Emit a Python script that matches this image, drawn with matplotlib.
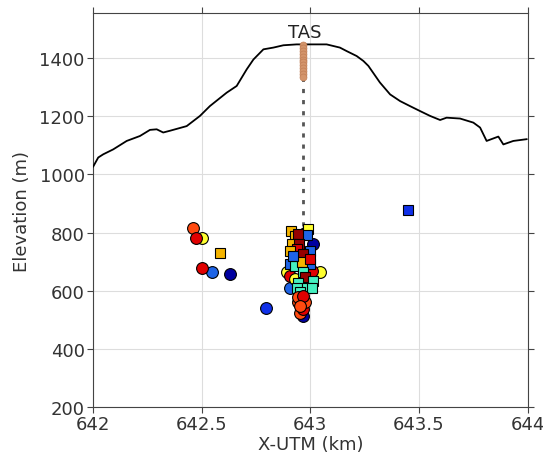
import matplotlib
matplotlib.use('Agg')
import matplotlib.pyplot as plt

# topographic profile along the section (km, m)
topo_x = [642.001, 642.024, 642.047, 642.093, 642.155, 642.216, 642.262, 642.293,
          642.323, 642.354, 642.431, 642.492, 642.538, 642.615, 642.661, 642.707,
          642.738, 642.784, 642.830, 642.876, 642.937, 642.983, 643.044, 643.075,
          643.136, 643.167, 643.213, 643.244, 643.267, 643.320, 643.367, 643.413,
          643.458, 643.504, 643.551, 643.597, 643.627, 643.689, 643.750, 643.781,
          643.811, 643.865, 643.888, 643.934, 643.995]
topo_z = [1027, 1058, 1069, 1086, 1115, 1132, 1153, 1155,
          1144, 1150, 1166, 1201, 1235, 1281, 1304, 1361,
          1395, 1430, 1436, 1444, 1447, 1447, 1447, 1447,
          1436, 1424, 1407, 1390, 1373, 1316, 1275, 1252,
          1235, 1218, 1201, 1187, 1195, 1192, 1178, 1161,
          1115, 1130, 1103, 1115, 1121]

# borehole station
sta_name = 'TAS'
sta_x = 642.966
sta_top = 1447
well_bottom = 540
sensor_z = [1445, 1435, 1425, 1415, 1405, 1395, 1385, 1375, 1365, 1355, 1345, 1335]

# event catalogue: x (km), elevation (m), symbol, colour class
ev_x = [642.460, 642.500, 642.474, 642.584, 642.546, 642.503, 642.630, 642.796, 643.448,
        642.968, 642.952, 642.968, 642.906, 642.891, 643.044, 642.906, 643.006, 642.975,
        643.010, 642.930,
        642.910, 642.991, 642.983, 642.929, 642.945, 642.914, 642.949, 642.937, 642.906,
        642.998, 642.968, 642.906, 642.998, 642.929, 642.960, 642.968, 642.975, 642.945,
        643.014, 642.937, 642.983, 643.006, 642.952, 642.920, 643.000,
        642.945, 642.960, 642.975, 642.945, 642.968, 642.952]
ev_z = [815, 781, 781, 730, 665, 677, 657, 542, 878,
        514, 525, 537, 611, 663, 663, 651, 668, 800,
        760, 640,
        806, 811, 791, 789, 794, 760, 760, 745, 737,
        737, 726, 691, 691, 685, 700, 663, 646, 628,
        634, 611, 611, 611, 595, 720, 710,
        560, 565, 560, 577, 582, 548]
ev_sym = ['o', 'o', 'o', 's', 'o', 'o', 'o', 'o', 's',
          'o', 'o', 'o', 'o', 'o', 'o', 'o', 'o', 'o',
          'o', 'o',
          's', 's', 's', 's', 's', 's', 's', 's', 's',
          's', 's', 's', 's', 's', 's', 's', 's', 's',
          's', 's', 's', 's', 's', 's', 's',
          'o', 'o', 'o', 'o', 'o', 'o']
ev_cls = ['orange', 'yellow', 'red', 'gold', 'blue', 'red', 'dkblue', 'pblue', 'pblue',
          'dkblue', 'orange', 'red', 'blue', 'yellow', 'yellow', 'red', 'red', 'yellow',
          'dkblue', 'yellow',
          'gold', 'yellow', 'blue', 'gold', 'dkred', 'gold', 'dkred', 'red', 'gold',
          'blue', 'dkred', 'blue', 'blue', 'aqua', 'gold', 'aqua', 'dkred', 'aqua',
          'aqua', 'aqua', 'aqua', 'aqua', 'aqua', 'blue', 'red',
          'orange', 'red', 'orange', 'orange', 'red', 'orange']

colours = {'dkblue': '#0000A0', 'pblue': '#1030E8', 'blue': '#1E64E6',
           'aqua': '#45F0C0', 'yellow': '#FFFF30', 'gold': '#F5B400',
           'orange': '#FF4A10', 'red': '#E00000', 'dkred': '#960000'}

fig = plt.figure(figsize=(5.43, 4.60), dpi=100)
ax = fig.add_axes([0.1713, 0.1130, 0.8005, 0.8566])

ax.plot(topo_x, topo_z, color='black', lw=1.3, zorder=3)
ax.plot([sta_x, sta_x], [sta_top, well_bottom], color='#555555', lw=2,
        ls=(0, (1.5, 2.5)), zorder=2)
ax.plot([sta_x] * len(sensor_z), sensor_z, 'o', ms=5, color='#D4956B',
        mec='#C07E55', mew=0.5, zorder=4)
ax.text(sta_x + 0.01, 1458, sta_name, ha='center', va='bottom', fontsize=13,
        color='#222222')

for x, z, m, c in zip(ev_x, ev_z, ev_sym, ev_cls):
    ms = 8.5 if m == 'o' else 7.5
    ax.plot(x, z, m, ms=ms, color=colours[c], mec='black', mew=0.8, zorder=5)

ax.set_xlim(642, 644)
ax.set_ylim(200, 1555)
ax.set_xticks([642, 642.5, 643, 643.5, 644])
ax.set_xticklabels(['642', '642.5', '643', '643.5', '644'])
ax.set_yticks([200, 400, 600, 800, 1000, 1200, 1400])
ax.grid(True, color='#DDDDDD', lw=0.8)
ax.set_axisbelow(True)
ax.tick_params(direction='out', length=4, top=True, right=True,
               labelsize=13, colors='#444444', labelcolor='#333333', pad=2)
for s in ax.spines.values():
    s.set_color('#444444')
ax.set_xlabel('X-UTM (km)', fontsize=13, color='#333333', labelpad=1)
ax.set_ylabel('Elevation (m)', fontsize=13, color='#333333', labelpad=6)

fig.savefig('out.png', dpi=100)
